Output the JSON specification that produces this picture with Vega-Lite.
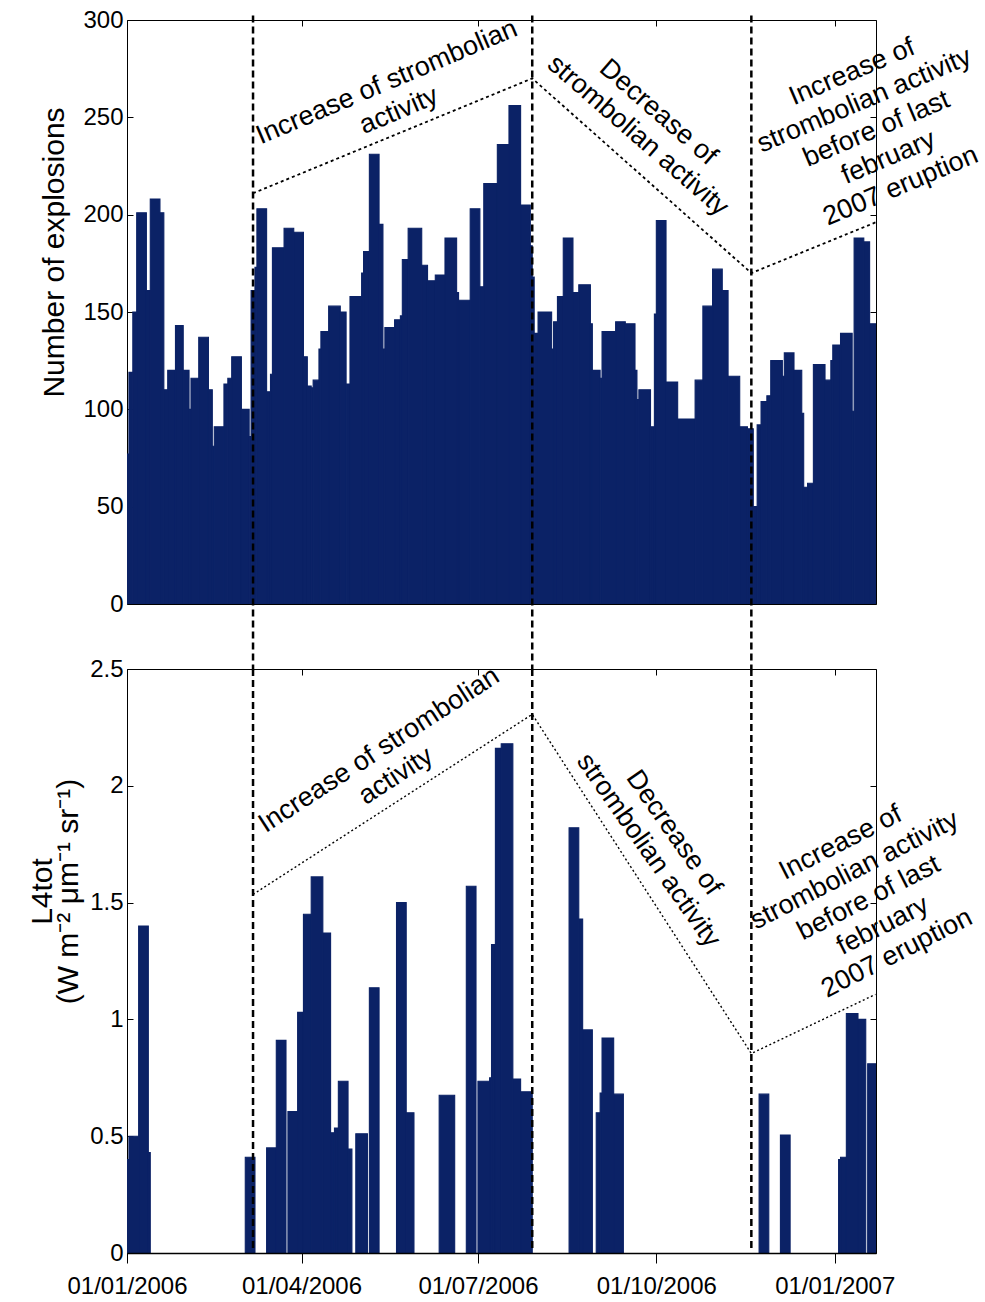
{
  "$schema": "https://vega.github.io/schema/vega-lite/v6.json",
  "padding": {"left": 26, "top": 7, "right": 5, "bottom": 2},
  "bounds": "flush",
  "spacing": 65,
  "background": "white",
  "datasets": {
    "explosions": [
      {"start": "2006-01-01", "end": "2006-01-02", "n": 77},
      {"start": "2006-01-02", "end": "2006-01-04", "n": 119},
      {"start": "2006-01-04", "end": "2006-01-06", "n": 150},
      {"start": "2006-01-06", "end": "2006-01-11", "n": 201},
      {"start": "2006-01-11", "end": "2006-01-13", "n": 161},
      {"start": "2006-01-13", "end": "2006-01-18", "n": 208},
      {"start": "2006-01-18", "end": "2006-01-20", "n": 201},
      {"start": "2006-01-20", "end": "2006-01-22", "n": 110},
      {"start": "2006-01-22", "end": "2006-01-26", "n": 120},
      {"start": "2006-01-26", "end": "2006-01-30", "n": 143},
      {"start": "2006-01-30", "end": "2006-02-02", "n": 120},
      {"start": "2006-02-02", "end": "2006-02-03", "n": 100},
      {"start": "2006-02-03", "end": "2006-02-07", "n": 116},
      {"start": "2006-02-07", "end": "2006-02-12", "n": 137},
      {"start": "2006-02-12", "end": "2006-02-14", "n": 110},
      {"start": "2006-02-14", "end": "2006-02-15", "n": 81},
      {"start": "2006-02-15", "end": "2006-02-20", "n": 91},
      {"start": "2006-02-20", "end": "2006-02-22", "n": 113},
      {"start": "2006-02-22", "end": "2006-02-24", "n": 116},
      {"start": "2006-02-24", "end": "2006-03-01", "n": 127},
      {"start": "2006-03-01", "end": "2006-03-05", "n": 100},
      {"start": "2006-03-05", "end": "2006-03-06", "n": 86},
      {"start": "2006-03-06", "end": "2006-03-08", "n": 161},
      {"start": "2006-03-08", "end": "2006-03-09", "n": 173},
      {"start": "2006-03-09", "end": "2006-03-14", "n": 203},
      {"start": "2006-03-14", "end": "2006-03-16", "n": 109},
      {"start": "2006-03-16", "end": "2006-03-17", "n": 118},
      {"start": "2006-03-17", "end": "2006-03-23", "n": 183},
      {"start": "2006-03-23", "end": "2006-03-28", "n": 193},
      {"start": "2006-03-28", "end": "2006-04-02", "n": 191},
      {"start": "2006-04-02", "end": "2006-04-04", "n": 127},
      {"start": "2006-04-04", "end": "2006-04-06", "n": 112},
      {"start": "2006-04-06", "end": "2006-04-07", "n": 111},
      {"start": "2006-04-07", "end": "2006-04-10", "n": 115},
      {"start": "2006-04-10", "end": "2006-04-11", "n": 131},
      {"start": "2006-04-11", "end": "2006-04-15", "n": 140},
      {"start": "2006-04-15", "end": "2006-04-21", "n": 153},
      {"start": "2006-04-21", "end": "2006-04-24", "n": 150},
      {"start": "2006-04-24", "end": "2006-04-26", "n": 113},
      {"start": "2006-04-26", "end": "2006-05-02", "n": 158},
      {"start": "2006-05-02", "end": "2006-05-03", "n": 170},
      {"start": "2006-05-03", "end": "2006-05-06", "n": 181},
      {"start": "2006-05-06", "end": "2006-05-11", "n": 231},
      {"start": "2006-05-11", "end": "2006-05-13", "n": 195},
      {"start": "2006-05-13", "end": "2006-05-14", "n": 131},
      {"start": "2006-05-14", "end": "2006-05-19", "n": 142},
      {"start": "2006-05-19", "end": "2006-05-22", "n": 146},
      {"start": "2006-05-22", "end": "2006-05-23", "n": 148},
      {"start": "2006-05-23", "end": "2006-05-26", "n": 177},
      {"start": "2006-05-26", "end": "2006-06-02", "n": 193},
      {"start": "2006-06-02", "end": "2006-06-05", "n": 174},
      {"start": "2006-06-05", "end": "2006-06-09", "n": 166},
      {"start": "2006-06-09", "end": "2006-06-14", "n": 169},
      {"start": "2006-06-14", "end": "2006-06-20", "n": 188},
      {"start": "2006-06-20", "end": "2006-06-21", "n": 160},
      {"start": "2006-06-21", "end": "2006-06-27", "n": 156},
      {"start": "2006-06-27", "end": "2006-07-02", "n": 203},
      {"start": "2006-07-02", "end": "2006-07-04", "n": 163},
      {"start": "2006-07-04", "end": "2006-07-11", "n": 216},
      {"start": "2006-07-11", "end": "2006-07-17", "n": 236},
      {"start": "2006-07-17", "end": "2006-07-23", "n": 256},
      {"start": "2006-07-23", "end": "2006-07-28", "n": 205},
      {"start": "2006-07-28", "end": "2006-07-29", "n": 184},
      {"start": "2006-07-29", "end": "2006-07-30", "n": 168},
      {"start": "2006-07-30", "end": "2006-08-01", "n": 139},
      {"start": "2006-08-01", "end": "2006-08-08", "n": 150},
      {"start": "2006-08-08", "end": "2006-08-09", "n": 131},
      {"start": "2006-08-09", "end": "2006-08-11", "n": 145},
      {"start": "2006-08-11", "end": "2006-08-14", "n": 158},
      {"start": "2006-08-14", "end": "2006-08-19", "n": 188},
      {"start": "2006-08-19", "end": "2006-08-22", "n": 160},
      {"start": "2006-08-22", "end": "2006-08-28", "n": 164},
      {"start": "2006-08-28", "end": "2006-08-29", "n": 144},
      {"start": "2006-08-29", "end": "2006-09-02", "n": 120},
      {"start": "2006-09-02", "end": "2006-09-03", "n": 116},
      {"start": "2006-09-03", "end": "2006-09-10", "n": 140},
      {"start": "2006-09-10", "end": "2006-09-15", "n": 145},
      {"start": "2006-09-15", "end": "2006-09-20", "n": 144},
      {"start": "2006-09-20", "end": "2006-09-21", "n": 120},
      {"start": "2006-09-21", "end": "2006-09-22", "n": 105},
      {"start": "2006-09-22", "end": "2006-09-28", "n": 110},
      {"start": "2006-09-28", "end": "2006-09-30", "n": 91},
      {"start": "2006-09-30", "end": "2006-10-01", "n": 149},
      {"start": "2006-10-01", "end": "2006-10-06", "n": 197},
      {"start": "2006-10-06", "end": "2006-10-12", "n": 114},
      {"start": "2006-10-12", "end": "2006-10-21", "n": 95},
      {"start": "2006-10-21", "end": "2006-10-25", "n": 115},
      {"start": "2006-10-25", "end": "2006-10-30", "n": 153},
      {"start": "2006-10-30", "end": "2006-11-04", "n": 172},
      {"start": "2006-11-04", "end": "2006-11-07", "n": 161},
      {"start": "2006-11-07", "end": "2006-11-13", "n": 117},
      {"start": "2006-11-13", "end": "2006-11-17", "n": 91},
      {"start": "2006-11-17", "end": "2006-11-20", "n": 90},
      {"start": "2006-11-20", "end": "2006-11-22", "n": 50},
      {"start": "2006-11-22", "end": "2006-11-24", "n": 92},
      {"start": "2006-11-24", "end": "2006-11-27", "n": 104},
      {"start": "2006-11-27", "end": "2006-11-29", "n": 107},
      {"start": "2006-11-29", "end": "2006-12-05", "n": 125},
      {"start": "2006-12-05", "end": "2006-12-06", "n": 117},
      {"start": "2006-12-06", "end": "2006-12-11", "n": 129},
      {"start": "2006-12-11", "end": "2006-12-15", "n": 120},
      {"start": "2006-12-15", "end": "2006-12-16", "n": 98},
      {"start": "2006-12-16", "end": "2006-12-18", "n": 60},
      {"start": "2006-12-18", "end": "2006-12-21", "n": 62},
      {"start": "2006-12-21", "end": "2006-12-27", "n": 123},
      {"start": "2006-12-27", "end": "2006-12-30", "n": 115},
      {"start": "2006-12-30", "end": "2006-12-31", "n": 125},
      {"start": "2006-12-31", "end": "2007-01-04", "n": 133},
      {"start": "2007-01-04", "end": "2007-01-10", "n": 139},
      {"start": "2007-01-10", "end": "2007-01-11", "n": 99},
      {"start": "2007-01-11", "end": "2007-01-16", "n": 188},
      {"start": "2007-01-16", "end": "2007-01-19", "n": 186},
      {"start": "2007-01-19", "end": "2007-01-23", "n": 144}
    ],
    "l4tot": [
      {"start": "2006-01-01", "end": "2006-01-02", "l4": 0.40},
      {"start": "2006-01-02", "end": "2006-01-07", "l4": 0.50},
      {"start": "2006-01-07", "end": "2006-01-12", "l4": 1.40},
      {"start": "2006-01-12", "end": "2006-01-13", "l4": 0.43},
      {"start": "2006-03-03", "end": "2006-03-08", "l4": 0.41},
      {"start": "2006-03-14", "end": "2006-03-19", "l4": 0.45},
      {"start": "2006-03-19", "end": "2006-03-24", "l4": 0.91},
      {"start": "2006-03-25", "end": "2006-03-30", "l4": 0.605},
      {"start": "2006-03-30", "end": "2006-04-02", "l4": 1.03},
      {"start": "2006-04-02", "end": "2006-04-06", "l4": 1.45},
      {"start": "2006-04-06", "end": "2006-04-12", "l4": 1.61},
      {"start": "2006-04-12", "end": "2006-04-16", "l4": 1.37},
      {"start": "2006-04-16", "end": "2006-04-18", "l4": 0.515},
      {"start": "2006-04-18", "end": "2006-04-20", "l4": 0.535},
      {"start": "2006-04-20", "end": "2006-04-25", "l4": 0.735},
      {"start": "2006-04-25", "end": "2006-04-27", "l4": 0.445},
      {"start": "2006-04-29", "end": "2006-05-05", "l4": 0.51},
      {"start": "2006-05-06", "end": "2006-05-11", "l4": 1.135},
      {"start": "2006-05-20", "end": "2006-05-25", "l4": 1.50},
      {"start": "2006-05-25", "end": "2006-05-29", "l4": 0.60},
      {"start": "2006-06-11", "end": "2006-06-19", "l4": 0.675},
      {"start": "2006-06-25", "end": "2006-06-30", "l4": 1.57},
      {"start": "2006-07-01", "end": "2006-07-07", "l4": 0.735},
      {"start": "2006-07-07", "end": "2006-07-08", "l4": 0.75},
      {"start": "2006-07-08", "end": "2006-07-10", "l4": 1.32},
      {"start": "2006-07-10", "end": "2006-07-13", "l4": 2.16},
      {"start": "2006-07-13", "end": "2006-07-19", "l4": 2.18},
      {"start": "2006-07-19", "end": "2006-07-23", "l4": 0.745},
      {"start": "2006-07-23", "end": "2006-07-29", "l4": 0.69},
      {"start": "2006-08-17", "end": "2006-08-22", "l4": 1.82},
      {"start": "2006-08-22", "end": "2006-08-24", "l4": 1.43},
      {"start": "2006-08-24", "end": "2006-08-29", "l4": 0.955},
      {"start": "2006-08-31", "end": "2006-09-02", "l4": 0.60},
      {"start": "2006-09-02", "end": "2006-09-03", "l4": 0.685},
      {"start": "2006-09-03", "end": "2006-09-09", "l4": 0.92},
      {"start": "2006-09-09", "end": "2006-09-14", "l4": 0.68},
      {"start": "2006-11-23", "end": "2006-11-28", "l4": 0.68},
      {"start": "2006-12-04", "end": "2006-12-09", "l4": 0.505},
      {"start": "2007-01-03", "end": "2007-01-04", "l4": 0.40},
      {"start": "2007-01-04", "end": "2007-01-07", "l4": 0.41},
      {"start": "2007-01-07", "end": "2007-01-13", "l4": 1.025},
      {"start": "2007-01-13", "end": "2007-01-17", "l4": 1.00},
      {"start": "2007-01-18", "end": "2007-01-23", "l4": 0.81}
    ],
    "events": [
      {"date": "2006-03-07"},
      {"date": "2006-07-29"},
      {"date": "2006-11-19"}
    ],
    "trendTop": [
      {"date": "2006-03-07", "value": 211},
      {"date": "2006-07-29", "value": 270},
      {"date": "2006-11-19", "value": 170},
      {"date": "2007-01-22", "value": 196}
    ],
    "trendBottom": [
      {"date": "2006-03-07", "value": 1.535},
      {"date": "2006-07-29", "value": 2.306},
      {"date": "2006-11-19", "value": 0.854},
      {"date": "2007-01-22", "value": 1.107}
    ]
  },
  "vconcat": [
    {
      "width": 749,
      "height": 584,
      "resolve": {"axis": {"x": "independent", "y": "independent"}},
      "layer": [
        {
          "data": {"name": "explosions"},
          "mark": {"type": "bar", "color": "#0b2266", "stroke": "#0b2266", "strokeWidth": 1.1, "clip": true},
          "encoding": {
            "x": {"field": "start", "type": "temporal",
              "scale": {"type": "utc", "domain": [{"year": 2006, "month": 1, "date": 1, "utc": true}, {"year": 2007, "month": 1, "date": 22, "hours": 7, "utc": true}]},
              "axis": null},
            "x2": {"field": "end"},
            "y": {"field": "n", "type": "quantitative",
              "scale": {"domain": [0, 300], "nice": false},
              "axis": {"title": "Number of explosions", "values": [0, 50, 100, 150, 200, 250, 300],
                "tickSize": -6, "labelPadding": 10, "domain": false,
                "titleX": -64, "titleY": 232, "titleBaseline": "alphabetic", "titleAngle": -90, "titleAlign": "center"}},
            "y2": {"datum": 0}
          }
        },
        {
          "data": {"name": "events"},
          "mark": {"type": "rule", "color": "black", "strokeWidth": 2.5, "strokeDash": [7, 4]},
          "encoding": {
            "x": {"field": "date", "type": "temporal",
              "axis": {"orient": "top", "labels": false, "tickSize": -6, "domain": false, "title": null,
                "values": [{"year": 2006, "month": 1, "date": 1, "utc": true}, {"year": 2006, "month": 4, "date": 1, "utc": true}, {"year": 2006, "month": 7, "date": 1, "utc": true}, {"year": 2006, "month": 10, "date": 1, "utc": true}, {"year": 2007, "month": 1, "date": 1, "utc": true}]}},
            "y": {"datum": 302.3, "type": "quantitative",
              "axis": {"orient": "right", "labels": false, "tickSize": -6, "domain": false, "title": null,
                "values": [0, 50, 100, 150, 200, 250, 300]}},
            "y2": {"datum": -34}
          }
        },
        {
          "data": {"name": "trendTop"},
          "mark": {"type": "line", "color": "black", "strokeWidth": 1.8, "strokeDash": [3, 3]},
          "encoding": {
            "x": {"field": "date", "type": "temporal", "axis": null},
            "y": {"field": "value", "type": "quantitative", "axis": null}
          }
        },
        {
          "data": {"values": [{"date": "2006-05-15", "value": 268, "note": "Increase of strombolian\nactivity"}]},
          "mark": {"type": "text", "angle": -23},
          "encoding": {
            "x": {"field": "date", "type": "temporal", "axis": null},
            "y": {"field": "value", "type": "quantitative", "axis": null},
            "text": {"field": "note"}
          }
        },
        {
          "data": {"values": [{"date": "2006-10-02", "value": 252.6, "note": "Decrease of\nstrombolian activity"}]},
          "mark": {"type": "text", "angle": 41},
          "encoding": {
            "x": {"field": "date", "type": "temporal", "axis": null},
            "y": {"field": "value", "type": "quantitative", "axis": null},
            "text": {"field": "note"}
          }
        },
        {
          "data": {"values": [{"date": "2007-01-10", "value": 273.3, "note": "Increase of\nstrombolian activity\nbefore of last\nfebruary\n2007 eruption"}]},
          "mark": {"type": "text", "angle": -23},
          "encoding": {
            "x": {"field": "date", "type": "temporal", "axis": null},
            "y": {"field": "value", "type": "quantitative", "axis": null},
            "text": {"field": "note"}
          }
        }
      ]
    },
    {
      "width": 749,
      "height": 584,
      "resolve": {"axis": {"x": "independent", "y": "independent"}},
      "layer": [
        {
          "data": {"name": "l4tot"},
          "mark": {"type": "bar", "color": "#0b2266", "stroke": "#0b2266", "strokeWidth": 1.1, "clip": true},
          "encoding": {
            "x": {"field": "start", "type": "temporal",
              "scale": {"type": "utc", "domain": [{"year": 2006, "month": 1, "date": 1, "utc": true}, {"year": 2007, "month": 1, "date": 22, "hours": 7, "utc": true}]},
              "axis": {"title": null, "format": "%d/%m/%Y", "tickSize": 10, "labelPadding": 11, "labelFlush": false, "labelDx": 6,
                "domain": true, "domainColor": "black", "domainWidth": 1.5, "zindex": 1,
                "values": [{"year": 2006, "month": 1, "date": 1, "utc": true}, {"year": 2006, "month": 4, "date": 1, "utc": true}, {"year": 2006, "month": 7, "date": 1, "utc": true}, {"year": 2006, "month": 10, "date": 1, "utc": true}, {"year": 2007, "month": 1, "date": 1, "utc": true}]}},
            "x2": {"field": "end"},
            "y": {"field": "l4", "type": "quantitative",
              "scale": {"domain": [0, 2.5], "nice": false},
              "axis": {"title": ["L4tot", "(W m⁻² μm⁻¹ sr⁻¹)"], "values": [0, 0.5, 1, 1.5, 2, 2.5], "format": "~g",
                "tickSize": -6, "labelPadding": 10, "domain": false,
                "titleX": -76, "titleY": 222, "titleBaseline": "alphabetic", "titleAngle": -90, "titleAlign": "center", "titleLineHeight": 26}},
            "y2": {"datum": 0}
          }
        },
        {
          "data": {"name": "events"},
          "mark": {"type": "rule", "color": "black", "strokeWidth": 2.5, "strokeDash": [7, 4]},
          "encoding": {
            "x": {"field": "date", "type": "temporal",
              "axis": {"orient": "top", "labels": false, "tickSize": -6, "domain": false, "title": null,
                "values": [{"year": 2006, "month": 1, "date": 1, "utc": true}, {"year": 2006, "month": 4, "date": 1, "utc": true}, {"year": 2006, "month": 7, "date": 1, "utc": true}, {"year": 2006, "month": 10, "date": 1, "utc": true}, {"year": 2007, "month": 1, "date": 1, "utc": true}]}},
            "y": {"datum": 2.5, "type": "quantitative",
              "axis": {"orient": "right", "labels": false, "tickSize": -6, "domain": false, "title": null,
                "values": [0, 0.5, 1, 1.5, 2, 2.5]}},
            "y2": {"datum": 0.01}
          }
        },
        {
          "data": {"name": "trendBottom"},
          "mark": {"type": "line", "color": "black", "strokeWidth": 1.4, "strokeDash": [2, 2.5]},
          "encoding": {
            "x": {"field": "date", "type": "temporal", "axis": null},
            "y": {"field": "value", "type": "quantitative", "axis": null}
          }
        },
        {
          "data": {"values": [{"date": "2006-05-11", "value": 2.153, "note": "Increase of strombolian\nactivity"}]},
          "mark": {"type": "text", "angle": -33},
          "encoding": {
            "x": {"field": "date", "type": "temporal", "axis": null},
            "y": {"field": "value", "type": "quantitative", "axis": null},
            "text": {"field": "note"}
          }
        },
        {
          "data": {"values": [{"date": "2006-10-10", "value": 1.799, "note": "Decrease of\nstrombolian activity"}]},
          "mark": {"type": "text", "angle": 55},
          "encoding": {
            "x": {"field": "date", "type": "temporal", "axis": null},
            "y": {"field": "value", "type": "quantitative", "axis": null},
            "text": {"field": "note"}
          }
        },
        {
          "data": {"values": [{"date": "2007-01-04", "value": 1.756, "note": "Increase of\nstrombolian activity\nbefore of last\nfebruary\n2007 eruption"}]},
          "mark": {"type": "text", "angle": -27},
          "encoding": {
            "x": {"field": "date", "type": "temporal", "axis": null},
            "y": {"field": "value", "type": "quantitative", "axis": null},
            "text": {"field": "note"}
          }
        }
      ]
    }
  ],
  "config": {
    "font": "Liberation Sans",
    "view": {"stroke": "black", "strokeWidth": 1},
    "axis": {"labelFont": "Liberation Sans", "labelFontSize": 24, "labelColor": "black",
      "titleFont": "Liberation Sans", "titleFontSize": 30, "titleFontWeight": "normal", "titleColor": "black",
      "tickColor": "black", "tickWidth": 1, "grid": false, "labelOverlap": false},
    "text": {"font": "Liberation Sans", "fontSize": 27, "lineBreak": "\n", "lineHeight": 31, "align": "center", "baseline": "middle", "color": "black"}
  }
}
